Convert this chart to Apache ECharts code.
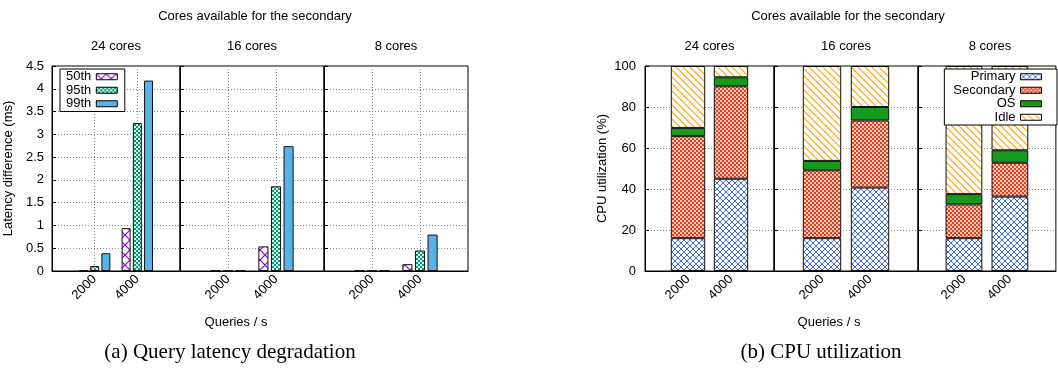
<!DOCTYPE html>
<html>
<head>
<meta charset="utf-8">
<script src="https://cdn.jsdelivr.net/npm/echarts@6/dist/echarts.min.js"></script>
<style>
html,body{margin:0;padding:0;background:#fff;}
#c{width:1058px;height:374px;}
</style>
</head>
<body>
<div id="c"></div>
<script>
// ---- data ----
const panels = ['24 cores', '16 cores', '8 cores'];
const rates = ['2000', '4000'];
const latYTicks = [0, 0.5, 1, 1.5, 2, 2.5, 3, 3.5, 4, 4.5];
const cpuYTicks = [0, 20, 40, 60, 80, 100];
// latency difference (ms), per panel: [2000, 4000]
const lat50 = [[0.01, 0.94], [0.01, 0.54], [0.01, 0.15]];
const lat95 = [[0.11, 3.25], [0.01, 1.86], [0.01, 0.45]];
const lat99 = [[0.39, 4.18], [0.01, 2.74], [0.01, 0.80]];
// CPU utilization (%), per panel: [2000, 4000]
const cpuPrimary   = [[16, 45.0], [16, 40.7], [16, 36.3]];
const cpuSecondary = [[49.8, 45.1], [33.1, 32.7], [16.5, 16.5]];
const cpuOS        = [[4.0, 4.4], [4.6, 6.6], [5.0, 6.1]];
const cpuIdle      = [[30.2, 5.5], [46.3, 20.0], [62.5, 41.1]];

// ---- patterns ----
function tile(n, draw) {
  const c = document.createElement('canvas');
  c.width = n; c.height = n;
  const g = c.getContext('2d');
  draw(g, n);
  return { image: c, repeat: 'repeat' };
}
function crossHatch(n, col, bg, lw) {
  return tile(n, (g, n) => {
    g.fillStyle = bg; g.fillRect(0, 0, n, n);
    g.strokeStyle = col; g.lineWidth = lw;
    g.beginPath();
    g.moveTo(-1, -1); g.lineTo(n + 1, n + 1);
    g.moveTo(n + 1, -1); g.lineTo(-1, n + 1);
    g.stroke();
  });
}
function checker(col, light) {
  return tile(4, (g) => {
    g.fillStyle = col; g.fillRect(0, 0, 4, 4);
    g.fillStyle = light;
    g.fillRect(0, 0, 2, 2); g.fillRect(2, 2, 2, 2);
  });
}
function backDiag(n, col, lw) {
  return tile(n, (g, n) => {
    g.fillStyle = '#fff'; g.fillRect(0, 0, n, n);
    g.strokeStyle = col; g.lineWidth = lw;
    g.beginPath();
    g.moveTo(-1, -1); g.lineTo(n + 1, n + 1);
    g.moveTo(-1, n - 1); g.lineTo(1, n + 1);
    g.moveTo(n - 1, -1); g.lineTo(n + 1, 1);
    g.stroke();
  });
}
const fill50 = crossHatch(10, '#9400d3', '#fff', 1.2);
const fill95 = checker('#009e73', 'rgba(255,255,255,0.85)');
const fill99 = '#56b4e9';
const fillPrimary = crossHatch(6, '#3d6cd8', '#fff', 1);
const fillSecondary = checker('#e4401c', 'rgba(255,235,230,0.8)');
const fillOS = '#169a1a';
const fillIdle = backDiag(7, '#ffa500', 1.2);

// ---- layout ----
const FONT = 'Liberation Sans, Arial, sans-serif';
const TOP = 66, H = 205;
const leftGrids = [[52, 128], [180, 144], [324, 144]];
const rightGrids = [[645, 129], [774, 144], [918, 144]];

const grid = [], xAxis = [], yAxis = [], series = [];
const cats = ['', ...rates, ''];

function addPanel(g, idx, isLat, first) {
  grid.push({ left: g[0], top: TOP, width: g[1], height: H, show: true,
    borderColor: '#000', borderWidth: 1, backgroundColor: 'transparent' });
  xAxis.push({ type: 'category', gridIndex: idx, data: cats, boundaryGap: false,
    axisLine: { show: true, lineStyle: { color: '#000', width: 1 } },
    axisTick: { show: false },
    axisLabel: { interval: 0, rotate: 45, margin: 6, fontFamily: FONT, fontSize: 13, color: '#000' },
    splitLine: { show: isLat, interval: (i) => i === 1 || i === 2,
      lineStyle: { type: [1, 2], color: '#888', width: 1 } } });
  const ticks = isLat ? latYTicks : cpuYTicks;
  yAxis.push({ type: 'value', gridIndex: idx, min: ticks[0], max: ticks[ticks.length - 1],
    interval: ticks[1] - ticks[0],
    name: first ? (isLat ? 'Latency difference (ms)' : 'CPU utilization (%)') : '',
    nameLocation: 'middle', nameGap: isLat ? 37 : 36,
    nameTextStyle: { fontFamily: FONT, fontSize: 13, color: '#000' },
    axisLine: { show: true, lineStyle: { color: '#000', width: 1 } },
    axisTick: { show: true, inside: true, length: 4, lineStyle: { color: '#000' } },
    axisLabel: { show: first, margin: isLat ? 8 : 9, fontFamily: FONT, fontSize: 13, color: '#000' },
    splitLine: { show: true, lineStyle: { type: [1, 2], color: '#888', width: 1 } } });
}

leftGrids.forEach((g, p) => {
  addPanel(g, p, true, p === 0);
  [['50th', lat50, fill50], ['95th', lat95, fill95], ['99th', lat99, fill99]].forEach(([nm, arr, f]) => {
    series.push({ type: 'bar', name: nm, xAxisIndex: p, yAxisIndex: p,
      data: [null, arr[p][0], arr[p][1], null],
      barWidth: '21%', barGap: '25%',
      itemStyle: { color: f, borderColor: '#111', borderWidth: 1 },
      emphasis: { disabled: true }, animation: false });
  });
});
rightGrids.forEach((g, p) => {
  const idx = p + 3;
  addPanel(g, idx, false, p === 0);
  [['Primary', cpuPrimary, fillPrimary], ['Secondary', cpuSecondary, fillSecondary],
   ['OS', cpuOS, fillOS], ['Idle', cpuIdle, fillIdle]].forEach(([nm, arr, f]) => {
    series.push({ type: 'bar', name: nm, xAxisIndex: idx, yAxisIndex: idx, stack: 'cpu' + p,
      data: [null, arr[p][0], arr[p][1], null],
      barWidth: '80%',
      itemStyle: { color: f, borderColor: '#111', borderWidth: 1 },
      emphasis: { disabled: true }, animation: false });
  });
});

function txt(x, y, s, size, family) {
  return { type: 'text', x: x, y: y, silent: true,
    style: { text: s, align: 'center', verticalAlign: 'middle',
      font: size + 'px ' + (family || FONT), fill: '#000' } };
}
const graphics = [
  txt(255, 16, 'Cores available for the secondary', 13),
  txt(848, 16, 'Cores available for the secondary', 13),
  txt(236, 322, 'Queries / s', 13),
  txt(829, 322, 'Queries / s', 13),
  txt(230, 352, '(a) Query latency degradation', 21, 'Liberation Serif, Times New Roman, serif'),
  txt(821, 352, '(b) CPU utilization', 21, 'Liberation Serif, Times New Roman, serif')
];
leftGrids.forEach((g, p) => graphics.push(txt(g[0] + g[1] / 2, 46, panels[p], 13)));
rightGrids.forEach((g, p) => graphics.push(txt(g[0] + g[1] / 2, 46, panels[p], 13)));

const legendCommon = {
  orient: 'vertical', align: 'right', icon: 'rect', itemWidth: 21, itemHeight: 6,
  itemGap: 0, backgroundColor: '#fff', borderColor: '#000', borderWidth: 1,
  selectedMode: false,
  itemStyle: { borderColor: '#000', borderWidth: 1 },
  textStyle: { fontFamily: FONT, fontSize: 13, color: '#000', lineHeight: 13.5 }
};

const chart = echarts.init(document.getElementById('c'), null, { renderer: 'canvas' });
chart.setOption({
  animation: false,
  backgroundColor: '#fff',
  grid, xAxis, yAxis, series,
  legend: [
    Object.assign({}, legendCommon, { data: ['50th', '95th', '99th'], left: 60, top: 69, padding: [1, 7, 1, 6] }),
    Object.assign({}, legendCommon, { data: ['Primary', 'Secondary', 'OS', 'Idle'], right: 1, top: 69, padding: [1, 15, 1, 9] })
  ],
  graphic: graphics
});
</script>
</body>
</html>
